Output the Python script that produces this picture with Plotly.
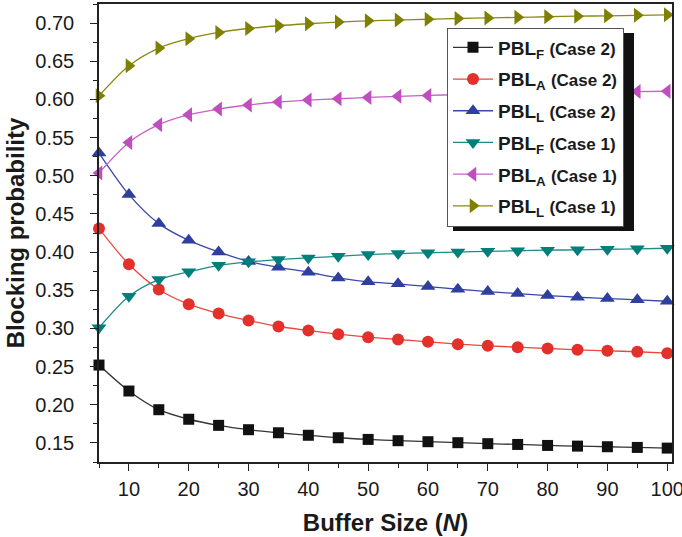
import plotly.graph_objects as go

buffer_size = [5, 10, 15, 20, 25, 30, 35, 40, 45, 50, 55, 60, 65, 70, 75, 80, 85, 90, 95, 100]

pbl_f_case2 = [0.252, 0.218, 0.1935, 0.181, 0.173, 0.1673, 0.1633, 0.160, 0.1568, 0.1546,
               0.1529, 0.1516, 0.1503, 0.149, 0.148, 0.1467, 0.1458, 0.145, 0.1441, 0.1432]
pbl_a_case2 = [0.4308, 0.384, 0.351, 0.3317, 0.3195, 0.3104, 0.3025, 0.2973, 0.2924, 0.2885,
               0.2855, 0.2825, 0.2793, 0.2772, 0.2754, 0.2737, 0.272, 0.2707, 0.2694, 0.2675]
pbl_l_case2 = [0.5298, 0.4753, 0.4373, 0.4154, 0.4002, 0.3878, 0.380, 0.3736, 0.3662, 0.361,
               0.3584, 0.3548, 0.3513, 0.3483, 0.3457, 0.343, 0.3408, 0.3391, 0.3374, 0.3356]
pbl_f_case1 = [0.3008, 0.3421, 0.364, 0.3741, 0.3827, 0.3872, 0.3902, 0.3924, 0.3945, 0.3967,
               0.398, 0.399, 0.400, 0.401, 0.4017, 0.4025, 0.403, 0.4037, 0.4043, 0.405]
pbl_a_case1 = [0.5037, 0.5437, 0.5669, 0.580, 0.5874, 0.5927, 0.5966, 0.5992, 0.6009, 0.6026,
               0.604, 0.6052, 0.6063, 0.6073, 0.6081, 0.6088, 0.6094, 0.6099, 0.6103, 0.6107]
pbl_l_case1 = [0.6048, 0.6441, 0.6673, 0.6795, 0.6877, 0.6929, 0.6965, 0.6991, 0.7013, 0.703,
               0.704, 0.705, 0.706, 0.7068, 0.7075, 0.7083, 0.709, 0.7095, 0.7102, 0.7108]

y_ticks = [0.15, 0.20, 0.25, 0.30, 0.35, 0.40, 0.45, 0.50, 0.55, 0.60, 0.65, 0.70]
x_ticks = [10, 20, 30, 40, 50, 60, 70, 80, 90, 100]

series = [
    ("PBL<sub>F</sub>", "Case 2", pbl_f_case2, "#111111", "#333333", "square", 11),
    ("PBL<sub>A</sub>", "Case 2", pbl_a_case2, "#e3302a", "#e8483f", "circle", 12),
    ("PBL<sub>L</sub>", "Case 2", pbl_l_case2, "#2f3f9e", "#3848a8", "triangle-up", 13),
    ("PBL<sub>F</sub>", "Case 1", pbl_f_case1, "#007f7b", "#1a8c88", "triangle-down", 13),
    ("PBL<sub>A</sub>", "Case 1", pbl_a_case1, "#bf4fbf", "#c860c8", "triangle-left", 13),
    ("PBL<sub>L</sub>", "Case 1", pbl_l_case1, "#7f7f00", "#8a8a10", "triangle-right", 13),
]

fig = go.Figure()
for i, (name, case, vals, mcol, lcol, sym, size) in enumerate(series):
    fig.add_trace(go.Scatter(
        x=buffer_size, y=vals, mode="lines+markers",
        name=f"<b>{name} <span style='font-size:17px'>({case})</span></b>",
        legendgroup=f"g{i}",
        line=dict(color=lcol, width=1.3, shape="spline", smoothing=0.8),
        marker=dict(symbol=sym, size=size, color=mcol, line=dict(width=0)),
        cliponaxis=False,
    ))

W, H = 682, 537
ml, mr, mt, mb = 99, 10, 4, 75
pw, ph = W - ml - mr, H - mt - mb

def px_to_paper(xp, yp):
    return (xp - ml) / pw, (H - mb - yp) / ph

# legend drop shadow
x0, y1 = px_to_paper(453, 33)
x1, y0 = px_to_paper(634, 231)
fig.add_shape(type="rect", xref="paper", yref="paper", x0=x0, x1=x1, y0=y0, y1=y1,
              fillcolor="#111111", line=dict(width=0), layer="above")

lx, ly = px_to_paper(447, 27.5)

fig.update_layout(
    width=W, height=H,
    margin=dict(l=ml, r=mr, t=mt, b=mb, autoexpand=False),
    paper_bgcolor="white", plot_bgcolor="white",
    font=dict(family="Liberation Sans, Arial, sans-serif", color="#1a1a1a", size=20),
    showlegend=True,
    legend=dict(x=lx, y=ly, xanchor="left", yanchor="top",
                bgcolor="white", bordercolor="#555555", borderwidth=1,
                font=dict(size=19, color="#1a1a1a"),
                tracegroupgap=4, itemwidth=40),
    xaxis=dict(
        range=[5, 100.8], tickmode="array", tickvals=x_ticks,
        ticks="outside", ticklen=7, tickwidth=1.3, tickcolor="#222",
        minor=dict(tickmode="array", tickvals=[5, 15, 25, 35, 45, 55, 65, 75, 85, 95],
                   ticks="outside", ticklen=4, tickwidth=1.3, tickcolor="#222"),
        showline=True, linecolor="#222", linewidth=1.5, mirror=True,
        showgrid=False, zeroline=False, automargin=False,
        tickfont=dict(size=20), ticklabelstandoff=1, ticklabeloverflow="allow",
        title=dict(text="<b>Buffer Size (<i>N</i>)</b>", font=dict(size=24), standoff=15),
    ),
    yaxis=dict(
        range=[0.125, 0.725], tickmode="array", tickvals=y_ticks,
        ticktext=[f"{v:.2f}" for v in y_ticks],
        ticks="outside", ticklen=7, tickwidth=1.3, tickcolor="#222",
        minor=dict(tickmode="array",
                   tickvals=[0.125, 0.175, 0.225, 0.275, 0.325, 0.375, 0.425, 0.475,
                             0.525, 0.575, 0.625, 0.675, 0.725],
                   ticks="outside", ticklen=4, tickwidth=1.3, tickcolor="#222"),
        showline=True, linecolor="#222", linewidth=1.5, mirror=True,
        showgrid=False, zeroline=False, automargin=False,
        tickfont=dict(size=20), ticklabelstandoff=12, ticklabeloverflow="allow",
        title=dict(text="<b>Blocking probability</b>", font=dict(size=24), standoff=4),
    ),
)

fig.write_html("out.html", config={"displayModeBar": False},
               post_script="document.body.style.margin='0';")
